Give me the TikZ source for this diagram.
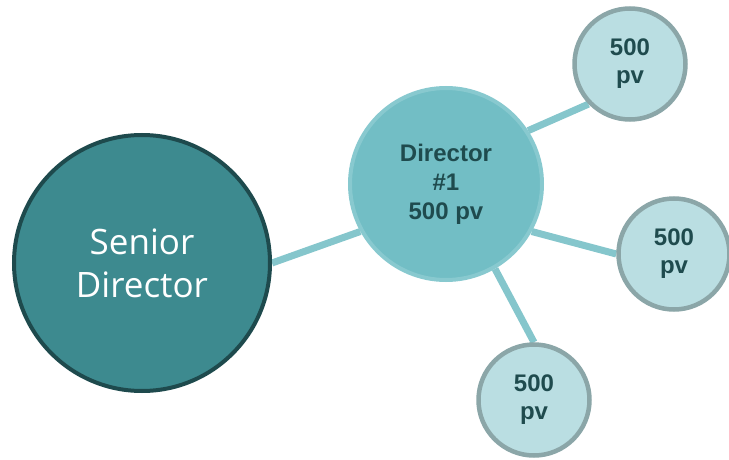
\documentclass[tikz,border=0pt]{standalone}
\usepackage{fontspec}
\setmainfont{Liberation Sans}
\newfontfamily\sdfont{Open Sans}
\usetikzlibrary{backgrounds}
\definecolor{sdfill}{HTML}{3D8A8F}
\definecolor{sdline}{HTML}{1E4A4D}
\definecolor{dirfill}{HTML}{72BEC5}
\definecolor{dirline}{HTML}{88C9CF}
\definecolor{smfill}{HTML}{BADEE2}
\definecolor{smline}{HTML}{8BA6A8}
\definecolor{conn}{HTML}{85C6CC}
\definecolor{txtdark}{HTML}{1F4B4E}
\tikzset{
  seniorbox/.style={circle, fill=sdfill, draw=sdline, line width=4pt, minimum size=256pt, inner sep=0pt,
    text=white, font=\sdfont\fontsize{35}{43}\selectfont, align=center},
  dirbox/.style={circle, fill=dirfill, draw=dirline, line width=4pt, minimum size=192pt, inner sep=0pt,
    text=txtdark, font=\bfseries\fontsize{24}{29}\selectfont, align=center},
  smallbox/.style={circle, fill=smfill, draw=smline, line width=4.5pt, minimum size=111pt, inner sep=0pt,
    text=txtdark, font=\bfseries\fontsize{24}{28}\selectfont, align=center},
  connector/.style={draw=conn, line width=7pt}
}
\begin{document}
\begin{tikzpicture}[x=1pt, y=-1pt]
\useasboundingbox (0,0) rectangle (729,460);
\node[seniorbox] (sd) at (142,263) {Senior\\Director};
\node[dirbox] (dir) at (446,184) {Director\\\#1\\500 pv};
\node[smallbox] (t1) at (630,64) {500\\pv};
\node[smallbox] (t2) at (674,254) {500\\pv};
\node[smallbox] (t3) at (534,400) {500\\pv};
\begin{scope}[on background layer]
\draw[connector] (sd.east) -- (dir.209);
\draw[connector] (dir.33) -- (t1.224);
\draw[connector] (dir.331) -- (t2.180);
\draw[connector] (dir.300) -- (t3.90);
\end{scope}
\end{tikzpicture}
\end{document}
